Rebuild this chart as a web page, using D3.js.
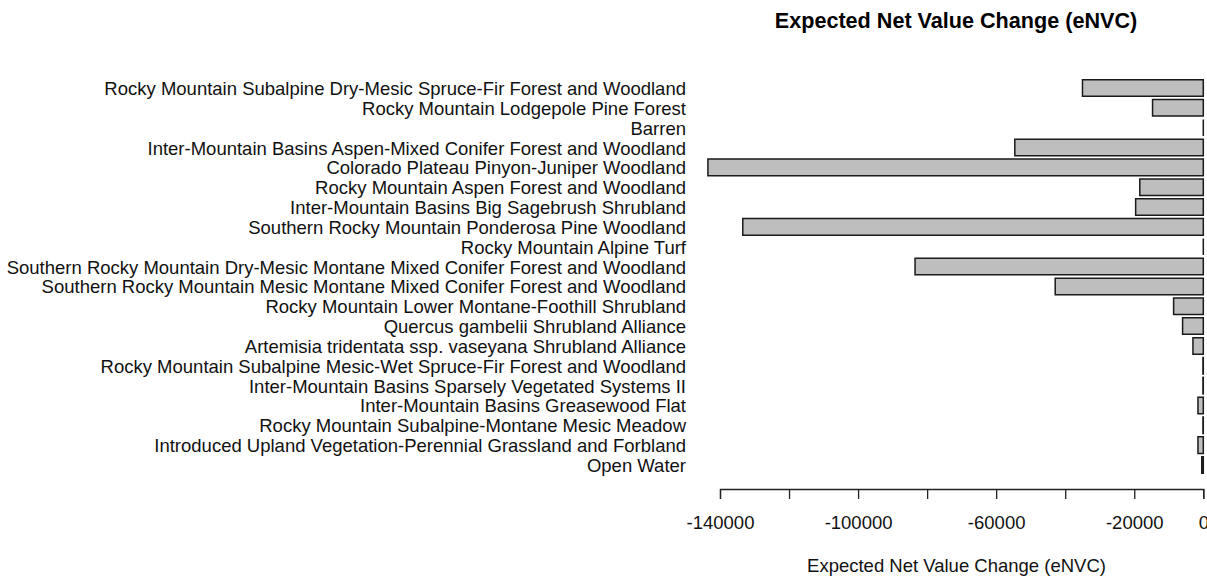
<!DOCTYPE html>
<html>
<head>
<meta charset="utf-8">
<script src="https://cdn.jsdelivr.net/npm/d3@7"></script>
<style>
  html, body { margin: 0; padding: 0; background: #fff; }
  svg { display: block; font-family: "Liberation Sans", Arial, sans-serif; }
</style>
</head>
<body>
<svg id="chart" width="1207" height="579"></svg>
<script>
// Vegetation types, listed top to bottom
const categories = [
  "Rocky Mountain Subalpine Dry-Mesic Spruce-Fir Forest and Woodland",
  "Rocky Mountain Lodgepole Pine Forest",
  "Barren",
  "Inter-Mountain Basins Aspen-Mixed Conifer Forest and Woodland",
  "Colorado Plateau Pinyon-Juniper Woodland",
  "Rocky Mountain Aspen Forest and Woodland",
  "Inter-Mountain Basins Big Sagebrush Shrubland",
  "Southern Rocky Mountain Ponderosa Pine Woodland",
  "Rocky Mountain Alpine Turf",
  "Southern Rocky Mountain Dry-Mesic Montane Mixed Conifer Forest and Woodland",
  "Southern Rocky Mountain Mesic Montane Mixed Conifer Forest and Woodland",
  "Rocky Mountain Lower Montane-Foothill Shrubland",
  "Quercus gambelii Shrubland Alliance",
  "Artemisia tridentata ssp. vaseyana Shrubland Alliance",
  "Rocky Mountain Subalpine Mesic-Wet Spruce-Fir Forest and Woodland",
  "Inter-Mountain Basins Sparsely Vegetated Systems II",
  "Inter-Mountain Basins Greasewood Flat",
  "Rocky Mountain Subalpine-Montane Mesic Meadow",
  "Introduced Upland Vegetation-Perennial Grassland and Forbland",
  "Open Water"
];

// Expected net value change per vegetation type
const envc = [
  -35000, -14700, 0, -54600, -143500,
  -18400, -19600, -133400, 0, -83500,
  -42900, -8600, -6000, -3000, -100,
  -100, -1550, -100, -1550, -450
];

const tickValues = [-140000, -120000, -100000, -80000, -60000, -40000, -20000, 0];
const labelledTicks = [-140000, -100000, -60000, -20000, 0];

const titleText = "Expected Net Value Change (eNVC)";
const axisTitle = "Expected Net Value Change (eNVC)";

const svg = d3.select("#chart");

const x = d3.scaleLinear().domain([-140000, 0]).range([720, 1203.3]);
const pitch = 19.84;
const y = d3.scaleBand()
  .domain(categories)
  .range([88 - pitch / 2, 88 + pitch * (categories.length - 0.5)])
  .paddingInner(1 / 6)
  .paddingOuter(1 / 12);

// Bars drawn as closed paths so zero-width bars still show their outline
svg.append("g")
  .selectAll("path")
  .data(categories)
  .join("path")
  .attr("d", (c, i) => {
    const x0 = x(0), x1 = x(envc[i]);
    const y0 = y(c), y1 = y(c) + y.bandwidth();
    return `M${x0},${y0}H${x1}V${y1}H${x0}Z`;
  })
  .attr("fill", "#bebebe")
  .attr("stroke", "#1a1a1a")
  .attr("stroke-width", 1.5);

// Category labels
svg.append("g")
  .selectAll("text")
  .data(categories)
  .join("text")
  .attr("x", 686)
  .attr("y", c => y(c) + y.bandwidth() / 2 + 7)
  .attr("text-anchor", "end")
  .attr("font-size", 18.5)
  .attr("fill", "#111")
  .text(c => c);

// Bottom axis
const axis = d3.axisBottom(x)
  .tickValues(tickValues)
  .tickSize(10)
  .tickPadding(0)
  .tickFormat(d => labelledTicks.includes(d) ? String(d) : "");

const gAxis = svg.append("g")
  .attr("transform", "translate(0,489)")
  .call(axis);
gAxis.select(".domain").attr("stroke", "#222").attr("stroke-width", 1.3);
gAxis.selectAll(".tick line").attr("stroke", "#222").attr("stroke-width", 1.3);
gAxis.selectAll(".tick text")
  .attr("font-size", 18.5)
  .attr("font-family", "Liberation Sans, Arial, sans-serif")
  .attr("fill", "#111")
  .attr("dy", null)
  .attr("y", 39.5);

// Axis title
svg.append("text")
  .attr("x", 956.5)
  .attr("y", 572)
  .attr("text-anchor", "middle")
  .attr("font-size", 18.5)
  .attr("fill", "#111")
  .text(axisTitle);

// Chart title
svg.append("text")
  .attr("x", 956)
  .attr("y", 28)
  .attr("text-anchor", "middle")
  .attr("font-size", 21.6)
  .attr("font-weight", "bold")
  .attr("fill", "#000")
  .text(titleText);
</script>
</body>
</html>
